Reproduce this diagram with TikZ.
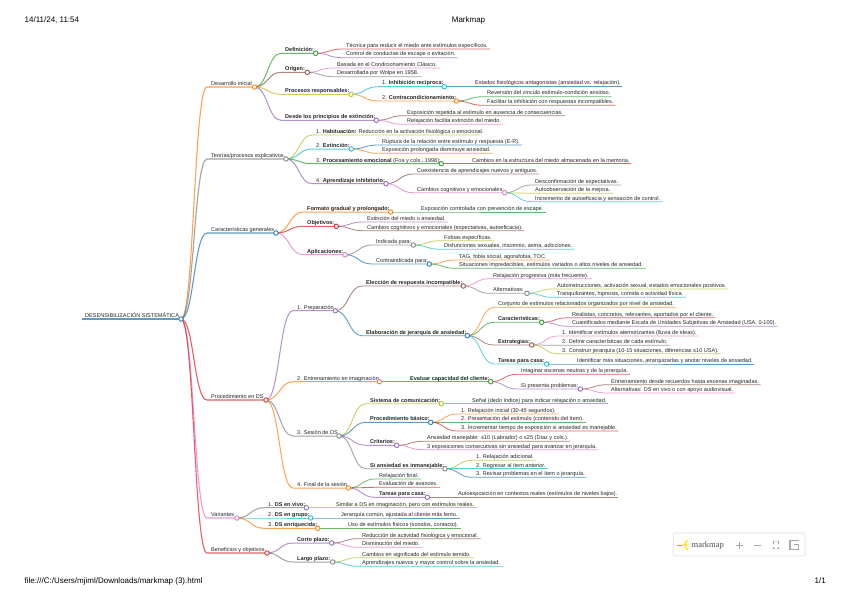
\documentclass[tikz,border=0pt]{standalone}
\usepackage{fontspec}
\setmainfont{Liberation Sans}
\newfontfamily\logofont{Liberation Serif}
\usetikzlibrary{calc}
\definecolor{mmblue}{HTML}{1F77B4}
\definecolor{mmorange}{HTML}{FF7F0E}
\definecolor{mmgreen}{HTML}{2CA02C}
\definecolor{mmred}{HTML}{D62728}
\definecolor{mmpurple}{HTML}{9467BD}
\definecolor{mmbrown}{HTML}{8C564B}
\definecolor{mmpink}{HTML}{E377C2}
\definecolor{mmgrey}{HTML}{7F7F7F}
\definecolor{mmolive}{HTML}{BCBD22}
\definecolor{mmcyan}{HTML}{17BECF}
\definecolor{toolgrey}{HTML}{A8A8A8}
\pgfdeclarelayer{links}
\pgfsetlayers{links,main}
\tikzset{
  mmlev0/.style={line width=1.2pt},
  mmlev1/.style={line width=1.1pt},
  mmlev2/.style={line width=1.0pt},
  mmlev3/.style={line width=0.9pt},
  mmlev4/.style={line width=0.8pt},
  mmlev5/.style={line width=0.75pt},
  mmlink/.style={draw opacity=0.72},
  mmdot/.style={circle,fill=white,line width=0.85pt,minimum size=4.5pt,inner sep=0pt},
  mmtext/.style={anchor=base west,inner sep=0pt,font=\fontsize{5.55}{6.5}\selectfont,text=black!85},
  pagetext/.style={inner sep=0pt,font=\fontsize{8}{9.5}\selectfont,text=black},
  toolicon/.style={draw=toolgrey,line width=1pt},
}
% level, id, parent, colour, x start, x end, y, text : line only (leaf)
\newcommand{\mmL}[8]{%
  \coordinate (#2-s) at ($(#5,#7)+(-2,0)$);
  \coordinate (#2-e) at (#6,#7);
  \coordinate (#2-m) at ($(#3.center)!.5!(#2-s)$);
  \begin{pgfonlayer}{links}
    \draw[mmlev#1,mmlink,color=#4] (#3.center) .. controls (#2-m |- #3.center) and (#2-m |- #2-s) .. (#2-s) -- (#2-e);
  \end{pgfonlayer}
  \node[mmtext] (#2-t) at ($(#2-s)+(4,-1.7)$) {#8};
}
% same, ending in a circle (branch)
\newcommand{\mmB}[8]{%
  \mmL{#1}{#2}{#3}{#4}{#5}{#6}{#7}{#8}
  \node[mmdot,draw=#4] (#2) at (#2-e) {};
}
\begin{document}
\begin{tikzpicture}[x=1pt,y=-1pt]
\useasboundingbox (0,0) rectangle (848,599);
\begin{pgfonlayer}{links}
\fill[white] (0,0) rectangle (848,599);
\end{pgfonlayer}

\node[pagetext,anchor=base west] (date) at (24.5,22.5) {14/11/24, 11:54};
\node[pagetext,anchor=base] (title) at (468.5,22.5) {Markmap};
\node[pagetext,anchor=base west] (file) at (24.5,583) {file:///C:/Users/mjiml/Downloads/markmap (3).html};
\node[pagetext,anchor=base east] (pageno) at (826,583) {1/1};

% root
\coordinate (root-s) at (82,319);
\node[mmdot,draw=mmblue] (root) at (181,319) {};
\begin{pgfonlayer}{links}\draw[mmlev0,mmlink,color=mmblue] (root-s) -- (root.center);\end{pgfonlayer}
\node[mmtext] (root-t) at (85,317.3) {DESENSIBILIZACIÓN SISTEMÁTICA};

% Desarrollo inicial
\mmB{1}{a}{root}{mmorange}{209}{254.5}{87}{Desarrollo inicial}
\mmB{2}{aa}{a}{mmgreen}{283}{315.7}{53.3}{\textbf{Definición:}}
\mmL{4}{aaa}{aa}{mmred}{344}{490}{49}{Técnica para reducir el miedo ante estímulos específicos.}
\mmL{4}{aab}{aa}{mmpurple}{344}{457.7}{57.7}{Control de conductas de escape o evitación.}
\mmB{2}{ab}{a}{mmbrown}{283}{307.3}{72.3}{\textbf{Origen:}}
\mmL{4}{aba}{ab}{mmpink}{335}{440}{68}{Basada en el Condicionamiento Clásico.}
\mmL{4}{abb}{ab}{mmgrey}{335}{421.7}{76.7}{Desarrollada por Wolpe en 1958.}
\mmB{2}{ac}{a}{mmolive}{283}{351}{94.3}{\textbf{Procesos responsables:}}
\mmB{3}{aca}{ac}{mmcyan}{380}{444.3}{86.7}{1. \textbf{Inhibición recíproca:}}
\mmL{4}{acaa}{aca}{mmblue}{473}{621.7}{86.7}{Estados fisiológicos antagonistas (ansiedad vs. relajación).}
\mmB{3}{acb}{ac}{mmorange}{380}{456.3}{101}{2. \textbf{Contracondicionamiento:}}
\mmL{4}{acba}{acb}{mmgreen}{485}{611.7}{96.7}{Reversión del vínculo estímulo-condición ansioso.}
\mmL{4}{acbb}{acb}{mmred}{485}{615}{105.3}{Facilitar la inhibición con respuestas incompatibles.}
\mmB{2}{ad}{a}{mmpurple}{283}{376.3}{120.3}{\textbf{Desde los principios de extinción:}}
\mmL{4}{ada}{ad}{mmbrown}{405}{565}{115.7}{Exposición repetida al estímulo en ausencia de consecuencias.}
\mmL{4}{adb}{ad}{mmpink}{405}{503}{124.3}{Relajación facilita extinción del miedo.}

% Teorias
\mmB{1}{b}{root}{mmgrey}{209}{286}{159}{Teorías/procesos explicativos.}
\mmL{3}{ba}{b}{mmolive}{314}{479.3}{135}{1. \textbf{Habituación:} Reducción en la activación fisiológica o emocional.}
\mmB{2}{bb}{b}{mmcyan}{314}{351.3}{149}{2. \textbf{Extinción:}}
\mmL{4}{bba}{bb}{mmblue}{380}{521.7}{145}{Ruptura de la relación entre estímulo y respuesta (E-R).}
\mmL{4}{bbb}{bb}{mmorange}{380}{492.7}{153.3}{Exposición prolongada disminuye ansiedad.}
\mmB{2}{bc}{b}{mmgreen}{314}{441.3}{163.7}{3. \textbf{Procesamiento emocional} (Foa y cols., 1998):}
\mmL{4}{bca}{bc}{mmred}{470}{631}{163.7}{Cambios en la estructura del miedo almacenada en la memoria.}
\mmB{2}{bd}{b}{mmpurple}{314}{386}{183.7}{4. \textbf{Aprendizaje inhibitorio:}}
\mmL{3}{bda}{bd}{mmbrown}{415}{539}{174}{Coexistencia de aprendizajes nuevos y antiguos.}
\mmB{3}{bdb}{bd}{mmpink}{415}{504.7}{192.7}{Cambios cognitivos y emocionales:}
\mmL{5}{bdba}{bdb}{mmgrey}{533}{621}{185}{Desconfirmación de expectativas.}
\mmL{5}{bdbb}{bdb}{mmolive}{533}{613}{193.3}{Autoobservación de la mejora.}
\mmL{5}{bdbc}{bdb}{mmcyan}{533}{662.7}{201.7}{Incremento de autoeficacia y sensación de control.}

% Caracteristicas
\mmB{1}{c}{root}{mmblue}{209}{276}{233}{Características generales}
\mmB{2}{ca}{c}{mmorange}{305}{390.7}{212}{\textbf{Formato gradual y prolongado:}}
\mmL{4}{caa}{ca}{mmgreen}{419}{545.7}{212}{Exposición controlada con prevención de escape.}
\mmB{2}{cb}{c}{mmred}{305}{336.3}{226.3}{\textbf{Objetivos:}}
\mmL{4}{cba}{cb}{mmpurple}{365}{447.7}{222}{Extinción del miedo o ansiedad.}
\mmL{4}{cbb}{cb}{mmbrown}{365}{524.3}{230.7}{Cambios cognitivos y emocionales (expectativas, autoeficacia).}
\mmB{2}{cc}{c}{mmpink}{305}{345}{254.7}{\textbf{Aplicaciones:}}
\mmB{3}{cca}{cc}{mmgrey}{374}{413.3}{245}{Indicada para:}
\mmL{4}{ccaa}{cca}{mmolive}{442}{494}{240.7}{Fobias específicas.}
\mmL{4}{ccab}{cca}{mmcyan}{442}{574.3}{249.3}{Disfunciones sexuales, insomnio, asma, adicciones.}
\mmB{3}{ccb}{cc}{mmblue}{374}{429.3}{264}{Contraindicada para:}
\mmL{4}{ccba}{ccb}{mmorange}{457}{550}{260}{TAG, fobia social, agorafobia, TOC.}
\mmL{4}{ccbb}{ccb}{mmgreen}{457}{645.7}{268.3}{Situaciones impredecibles, estímulos variados o altos niveles de ansiedad.}

% Procedimiento
\mmB{1}{d}{root}{mmred}{209}{266}{400}{Procedimiento en DS}
\mmB{2}{da}{d}{mmpurple}{295}{335.3}{310.7}{1. Preparación}
\mmB{3}{daa}{da}{mmbrown}{364}{463.3}{286}{\textbf{Elección de respuesta incompatible:}}
\mmL{4}{daaa}{daa}{mmpink}{491}{592}{278.7}{Relajación progresiva (más frecuente).}
\mmB{4}{daab}{daa}{mmgrey}{491}{527}{293.3}{Alternativas:}
\mmL{5}{daaba}{daab}{mmolive}{555}{728.3}{289}{Autoinstrucciones, activación sexual, estados emocionales positivos.}
\mmL{5}{daabb}{daab}{mmcyan}{555}{686}{297.3}{Tranquilizantes, hipnosis, comida o actividad física.}
\mmB{3}{dab}{da}{mmblue}{364}{467.3}{335.7}{\textbf{Elaboración de jerarquía de ansiedad:}}
\mmL{4}{daba}{dab}{mmorange}{496}{675.7}{307.3}{Conjunto de estímulos relacionados organizados por nivel de ansiedad.}
\mmB{4}{dabb}{dab}{mmgreen}{496}{541.7}{322.3}{\textbf{Características:}}
\mmL{5}{dabba}{dabb}{mmred}{570}{715}{317.7}{Realistas, concretos, relevantes, aportados por el cliente.}
\mmL{5}{dabbb}{dabb}{mmpurple}{570}{777.3}{326.3}{Cuantificados mediante Escala de Unidades Subjetivas de Ansiedad (USA, 0-100).}
\mmB{4}{dabc}{dab}{mmbrown}{496}{531.7}{345}{\textbf{Estrategias:}}
\mmL{5}{dabca}{dabc}{mmpink}{560}{698.3}{336}{1. Identificar estímulos atemorizantes (lluvia de ideas).}
\mmL{5}{dabcb}{dabc}{mmgrey}{560}{670}{345.3}{2. Definir características de cada estímulo.}
\mmL{5}{dabcc}{dabc}{mmolive}{560}{720}{353.7}{3. Construir jerarquía (10-15 situaciones, diferencias ≤10 USA).}
\mmB{4}{dabd}{dab}{mmcyan}{496}{546.7}{364}{\textbf{Tareas para casa:}}
\mmL{5}{dabda}{dabd}{mmblue}{575}{754.3}{364}{Identificar más situaciones, jerarquizarlas y anotar niveles de ansiedad.}
\mmB{2}{db}{d}{mmorange}{295}{379.3}{381.7}{2. Entrenamiento en imaginación}
\mmB{3}{dba}{db}{mmgreen}{408}{490.7}{381.7}{\textbf{Evaluar capacidad del cliente:}}
\mmL{4}{dbaa}{dba}{mmred}{519}{630}{374.3}{Imaginar escenas neutras y de la jerarquía.}
\mmB{4}{dbab}{dba}{mmpurple}{519}{580.3}{389}{Si presenta problemas:}
\mmL{5}{dbaba}{dbab}{mmbrown}{609}{760.7}{384.7}{Entrenamiento desde recuerdos hasta escenas imaginadas.}
\mmL{5}{dbabb}{dbab}{mmpink}{609}{735}{393}{Alternativas: DS en vivo o con apoyo audiovisual.}
\mmB{2}{dc}{d}{mmgrey}{295}{339}{436}{3. Sesión de DS}
\mmB{3}{dca}{dc}{mmolive}{368}{441.3}{403.7}{\textbf{Sistema de comunicación:}}
\mmL{4}{dcaa}{dca}{mmcyan}{470}{607.7}{403.7}{Señal (dedo índice) para indicar relajación o ansiedad.}
\mmB{3}{dcb}{dc}{mmblue}{368}{430.7}{422.3}{\textbf{Procedimiento básico:}}
\mmL{4}{dcba}{dcb}{mmorange}{459}{558.3}{414}{1. Relajación inicial (30-45 segundos).}
\mmL{4}{dcbb}{dcb}{mmgreen}{459}{586}{422.3}{2. Presentación del estímulo (contenido del ítem).}
\mmL{4}{dcbc}{dcb}{mmred}{459}{618.3}{431}{3. Incrementar tiempo de exposición si ansiedad es manejable.}
\mmB{3}{dcc}{dc}{mmpurple}{368}{396.7}{445.3}{\textbf{Criterios:}}
\mmL{4}{dcca}{dcc}{mmbrown}{425}{570}{441.3}{Ansiedad manejable: ≤10 (Labrador) o ≤25 (Díaz y cols.).}
\mmL{4}{dccb}{dcc}{mmpink}{425}{598.3}{449.7}{3 exposiciones consecutivas sin ansiedad para avanzar en jerarquía.}
\mmB{3}{dcd}{dc}{mmgrey}{368}{445}{468.7}{\textbf{Si ansiedad es inmanejable:}}
\mmL{4}{dcda}{dcd}{mmolive}{474}{536}{460.3}{1. Relajación adicional.}
\mmL{4}{dcdb}{dcd}{mmcyan}{474}{548}{468.7}{2. Regresar al ítem anterior.}
\mmL{4}{dcdc}{dcd}{mmblue}{474}{586}{477.3}{3. Revisar problemas en el ítem o jerarquía.}
\mmB{2}{dd}{d}{mmorange}{295}{348.3}{488}{4. Final de la sesión}
\mmL{4}{dda}{dd}{mmgreen}{377}{421}{479}{Relajación final.}
\mmL{4}{ddb}{dd}{mmred}{377}{440}{487.3}{Evaluación de avances.}
\mmB{3}{ddc}{dd}{mmpurple}{377}{427.3}{497.3}{\textbf{Tareas para casa:}}
\mmL{4}{ddca}{ddc}{mmbrown}{456}{618.3}{497.3}{Autoexposición en contextos reales (estímulos de niveles bajos).}

% Variantes
\mmB{1}{e}{root}{mmpink}{209}{237}{518}{Variantes}
\mmB{2}{ea}{e}{mmgrey}{266}{306.3}{507.7}{1. \textbf{DS en vivo:}}
\mmL{4}{eaa}{ea}{mmolive}{334}{476.7}{507.7}{Similar a DS en imaginación, pero con estímulos reales.}
\mmB{2}{eb}{e}{mmcyan}{266}{310.7}{518}{2. \textbf{DS en grupo:}}
\mmL{4}{eba}{eb}{mmblue}{339}{460}{518}{Jerarquía común, ajustada al cliente más lento.}
\mmB{2}{ec}{e}{mmorange}{266}{317.7}{528.3}{3. \textbf{DS enriquecida:}}
\mmL{4}{eca}{ec}{mmgreen}{346}{460.7}{528.3}{Uso de estímulos físicos (sonidos, contacto).}

% Beneficios
\mmB{1}{f}{root}{mmred}{209}{267}{553}{Beneficios y objetivos}
\mmB{2}{fa}{f}{mmpurple}{295}{331.7}{543}{\textbf{Corto plazo:}}
\mmL{4}{faa}{fa}{mmbrown}{360}{480.7}{538.7}{Reducción de actividad fisiológica y emocional.}
\mmL{4}{fab}{fa}{mmpink}{360}{422.7}{547.3}{Disminución del miedo.}
\mmB{2}{fb}{f}{mmgrey}{295}{332.7}{562}{\textbf{Largo plazo:}}
\mmL{4}{fba}{fb}{mmolive}{360}{474}{557.7}{Cambios en significado del estímulo temido.}
\mmL{4}{fbb}{fb}{mmcyan}{360}{503.3}{566.3}{Aprendizajes nuevos y mayor control sobre la ansiedad.}

% toolbar
\draw[draw=black!12,line width=0.7pt,fill=white,rounded corners=2pt] (673.3,533) rectangle (805,556);
\draw[draw=orange!90!yellow,line width=0.9pt] (677,545) -- (682,545);
\draw[draw=yellow!85!orange,line width=1.1pt] (682,545) -- (688,545)
  (688,540.5) .. controls (683,540.5) and (685,549.5) .. (688,549.5);
\node[inner sep=0pt,anchor=base west,font=\logofont\fontsize{8.5}{10}\selectfont,text=black!70] (logo) at (691.5,547.5) {markmap};
\draw[toolicon] (739,541.5) -- (739,548.5) (735.5,545) -- (742.5,545);
\draw[toolicon] (753.5,545) -- (760.5,545);
\draw[toolicon,line width=0.9pt] (775,541.5) -- (773.5,541.5) -- (773.5,543.5)
  (777,541.5) -- (778.5,541.5) -- (778.5,543.5)
  (773.5,546.5) -- (773.5,548.5) -- (775,548.5)
  (778.5,546.5) -- (778.5,548.5) -- (777,548.5);
\draw[toolicon,line width=1.1pt] (798.5,540.8) -- (790,540.8) -- (790,549.2) -- (798.5,549.2) -- (798.5,544.5) -- (793.5,544.5);
\end{tikzpicture}
\end{document}
